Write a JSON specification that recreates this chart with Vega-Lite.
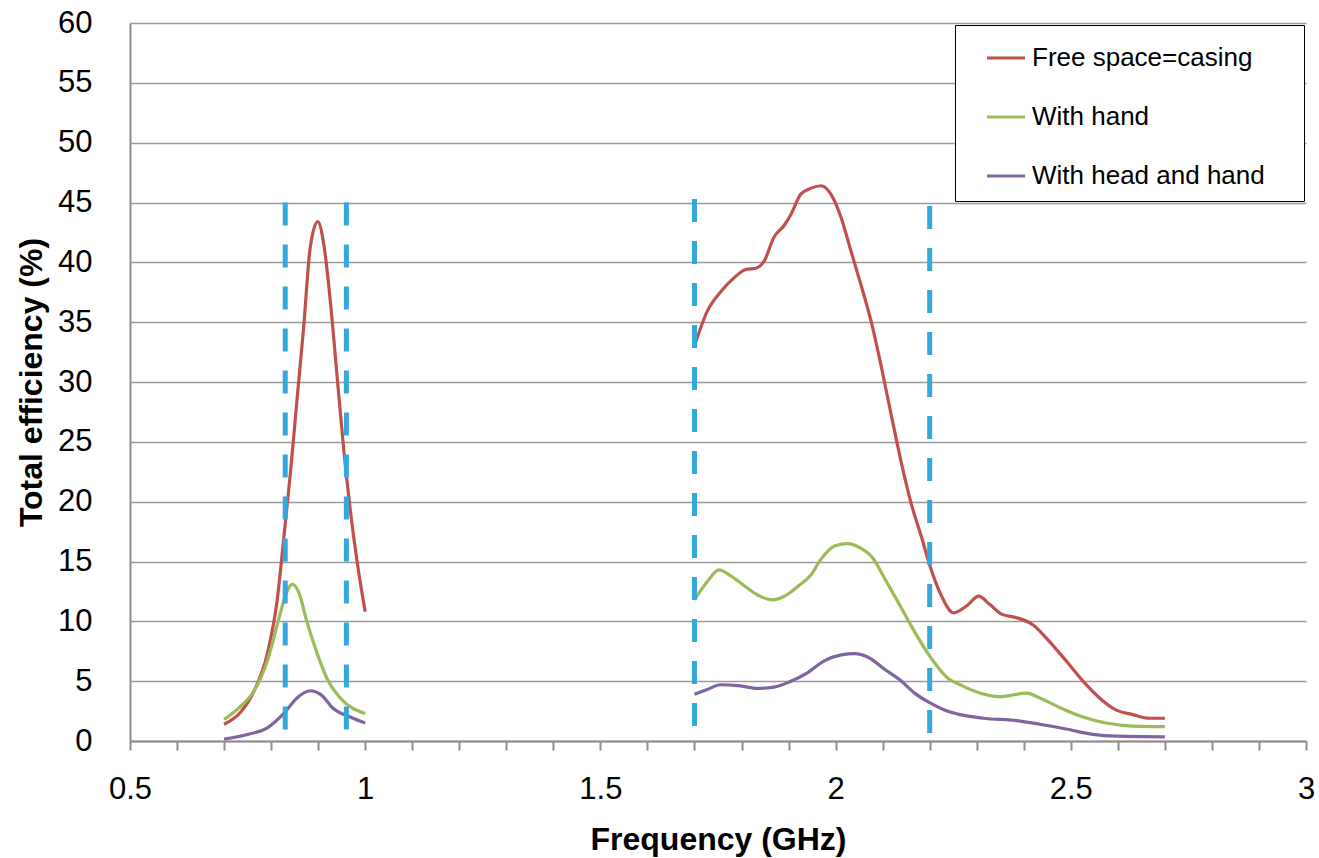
{
  "$schema": "https://vega.github.io/schema/vega-lite/v6.json",
  "width": 1176,
  "height": 718,
  "autosize": "none",
  "padding": {"left": 130, "top": 23, "right": 13, "bottom": 117},
  "background": "white",
  "config": {"view": {"stroke": null}, "font": "Liberation Sans"},
  "datasets": {
    "curves": [
      {"f": 0.7, "v": 1.4, "s": "Free space=casing", "b": "low"},
      {"f": 0.735, "v": 2.4, "s": "Free space=casing", "b": "low"},
      {"f": 0.764, "v": 4.2, "s": "Free space=casing", "b": "low"},
      {"f": 0.792, "v": 7.3, "s": "Free space=casing", "b": "low"},
      {"f": 0.813, "v": 11.8, "s": "Free space=casing", "b": "low"},
      {"f": 0.827, "v": 17, "s": "Free space=casing", "b": "low"},
      {"f": 0.841, "v": 22.4, "s": "Free space=casing", "b": "low"},
      {"f": 0.855, "v": 28.5, "s": "Free space=casing", "b": "low"},
      {"f": 0.869, "v": 34.5, "s": "Free space=casing", "b": "low"},
      {"f": 0.883, "v": 41.2, "s": "Free space=casing", "b": "low"},
      {"f": 0.899, "v": 43.4, "s": "Free space=casing", "b": "low"},
      {"f": 0.912, "v": 41.5, "s": "Free space=casing", "b": "low"},
      {"f": 0.926, "v": 36.7, "s": "Free space=casing", "b": "low"},
      {"f": 0.94, "v": 30.6, "s": "Free space=casing", "b": "low"},
      {"f": 0.954, "v": 24.5, "s": "Free space=casing", "b": "low"},
      {"f": 0.968, "v": 19.4, "s": "Free space=casing", "b": "low"},
      {"f": 0.982, "v": 15.2, "s": "Free space=casing", "b": "low"},
      {"f": 1.0, "v": 10.8, "s": "Free space=casing", "b": "low"},
      {"f": 1.7, "v": 33, "s": "Free space=casing", "b": "high"},
      {"f": 1.727, "v": 35.9, "s": "Free space=casing", "b": "high"},
      {"f": 1.755, "v": 37.5, "s": "Free space=casing", "b": "high"},
      {"f": 1.784, "v": 38.7, "s": "Free space=casing", "b": "high"},
      {"f": 1.809, "v": 39.4, "s": "Free space=casing", "b": "high"},
      {"f": 1.83, "v": 39.5, "s": "Free space=casing", "b": "high"},
      {"f": 1.848, "v": 40.1, "s": "Free space=casing", "b": "high"},
      {"f": 1.869, "v": 42.1, "s": "Free space=casing", "b": "high"},
      {"f": 1.891, "v": 43.1, "s": "Free space=casing", "b": "high"},
      {"f": 1.905, "v": 44.0, "s": "Free space=casing", "b": "high"},
      {"f": 1.926, "v": 45.7, "s": "Free space=casing", "b": "high"},
      {"f": 1.948, "v": 46.2, "s": "Free space=casing", "b": "high"},
      {"f": 1.969, "v": 46.4, "s": "Free space=casing", "b": "high"},
      {"f": 1.99, "v": 45.7, "s": "Free space=casing", "b": "high"},
      {"f": 2.012, "v": 43.7, "s": "Free space=casing", "b": "high"},
      {"f": 2.033, "v": 40.9, "s": "Free space=casing", "b": "high"},
      {"f": 2.054, "v": 38.1, "s": "Free space=casing", "b": "high"},
      {"f": 2.076, "v": 35.0, "s": "Free space=casing", "b": "high"},
      {"f": 2.097, "v": 31.3, "s": "Free space=casing", "b": "high"},
      {"f": 2.118, "v": 27.3, "s": "Free space=casing", "b": "high"},
      {"f": 2.14, "v": 23.2, "s": "Free space=casing", "b": "high"},
      {"f": 2.161, "v": 19.8, "s": "Free space=casing", "b": "high"},
      {"f": 2.183, "v": 17.0, "s": "Free space=casing", "b": "high"},
      {"f": 2.2, "v": 14.7, "s": "Free space=casing", "b": "high"},
      {"f": 2.223, "v": 12.3, "s": "Free space=casing", "b": "high"},
      {"f": 2.251, "v": 10.7, "s": "Free space=casing", "b": "high"},
      {"f": 2.279, "v": 11.3, "s": "Free space=casing", "b": "high"},
      {"f": 2.304, "v": 12.1, "s": "Free space=casing", "b": "high"},
      {"f": 2.328, "v": 11.4, "s": "Free space=casing", "b": "high"},
      {"f": 2.353, "v": 10.6, "s": "Free space=casing", "b": "high"},
      {"f": 2.385, "v": 10.3, "s": "Free space=casing", "b": "high"},
      {"f": 2.42, "v": 9.7, "s": "Free space=casing", "b": "high"},
      {"f": 2.448, "v": 8.6, "s": "Free space=casing", "b": "high"},
      {"f": 2.49, "v": 6.7, "s": "Free space=casing", "b": "high"},
      {"f": 2.526, "v": 5.0, "s": "Free space=casing", "b": "high"},
      {"f": 2.561, "v": 3.6, "s": "Free space=casing", "b": "high"},
      {"f": 2.596, "v": 2.6, "s": "Free space=casing", "b": "high"},
      {"f": 2.632, "v": 2.2, "s": "Free space=casing", "b": "high"},
      {"f": 2.667, "v": 1.9, "s": "Free space=casing", "b": "high"},
      {"f": 2.7, "v": 1.9, "s": "Free space=casing", "b": "high"},

      {"f": 0.7, "v": 1.8, "s": "With hand", "b": "low"},
      {"f": 0.735, "v": 2.9, "s": "With hand", "b": "low"},
      {"f": 0.764, "v": 4.2, "s": "With hand", "b": "low"},
      {"f": 0.792, "v": 6.7, "s": "With hand", "b": "low"},
      {"f": 0.813, "v": 9.7, "s": "With hand", "b": "low"},
      {"f": 0.83, "v": 12.1, "s": "With hand", "b": "low"},
      {"f": 0.845, "v": 13.1, "s": "With hand", "b": "low"},
      {"f": 0.859, "v": 12.4, "s": "With hand", "b": "low"},
      {"f": 0.876, "v": 10, "s": "With hand", "b": "low"},
      {"f": 0.898, "v": 7.3, "s": "With hand", "b": "low"},
      {"f": 0.919, "v": 5.2, "s": "With hand", "b": "low"},
      {"f": 0.947, "v": 3.6, "s": "With hand", "b": "low"},
      {"f": 1.0, "v": 2.3, "s": "With hand", "b": "low"},
      {"f": 1.7, "v": 11.8, "s": "With hand", "b": "high"},
      {"f": 1.727, "v": 13.3, "s": "With hand", "b": "high"},
      {"f": 1.752, "v": 14.3, "s": "With hand", "b": "high"},
      {"f": 1.777, "v": 13.8, "s": "With hand", "b": "high"},
      {"f": 1.805, "v": 13.0, "s": "With hand", "b": "high"},
      {"f": 1.834, "v": 12.2, "s": "With hand", "b": "high"},
      {"f": 1.866, "v": 11.8, "s": "With hand", "b": "high"},
      {"f": 1.891, "v": 12.1, "s": "With hand", "b": "high"},
      {"f": 1.919, "v": 12.9, "s": "With hand", "b": "high"},
      {"f": 1.948, "v": 13.9, "s": "With hand", "b": "high"},
      {"f": 1.969, "v": 15.2, "s": "With hand", "b": "high"},
      {"f": 1.998, "v": 16.3, "s": "With hand", "b": "high"},
      {"f": 2.026, "v": 16.5, "s": "With hand", "b": "high"},
      {"f": 2.054, "v": 16.1, "s": "With hand", "b": "high"},
      {"f": 2.079, "v": 15.3, "s": "With hand", "b": "high"},
      {"f": 2.104, "v": 13.6, "s": "With hand", "b": "high"},
      {"f": 2.133, "v": 11.6, "s": "With hand", "b": "high"},
      {"f": 2.161, "v": 9.6, "s": "With hand", "b": "high"},
      {"f": 2.19, "v": 7.7, "s": "With hand", "b": "high"},
      {"f": 2.211, "v": 6.5, "s": "With hand", "b": "high"},
      {"f": 2.24, "v": 5.2, "s": "With hand", "b": "high"},
      {"f": 2.265, "v": 4.7, "s": "With hand", "b": "high"},
      {"f": 2.293, "v": 4.2, "s": "With hand", "b": "high"},
      {"f": 2.35, "v": 3.7, "s": "With hand", "b": "high"},
      {"f": 2.406, "v": 4.0, "s": "With hand", "b": "high"},
      {"f": 2.434, "v": 3.6, "s": "With hand", "b": "high"},
      {"f": 2.476, "v": 2.8, "s": "With hand", "b": "high"},
      {"f": 2.526, "v": 2.0, "s": "With hand", "b": "high"},
      {"f": 2.575, "v": 1.5, "s": "With hand", "b": "high"},
      {"f": 2.632, "v": 1.25, "s": "With hand", "b": "high"},
      {"f": 2.7, "v": 1.2, "s": "With hand", "b": "high"},

      {"f": 0.7, "v": 0.15, "s": "With head and hand", "b": "low"},
      {"f": 0.756, "v": 0.6, "s": "With head and hand", "b": "low"},
      {"f": 0.792, "v": 1.1, "s": "With head and hand", "b": "low"},
      {"f": 0.827, "v": 2.3, "s": "With head and hand", "b": "low"},
      {"f": 0.855, "v": 3.6, "s": "With head and hand", "b": "low"},
      {"f": 0.883, "v": 4.2, "s": "With head and hand", "b": "low"},
      {"f": 0.905, "v": 3.9, "s": "With head and hand", "b": "low"},
      {"f": 0.933, "v": 2.7, "s": "With head and hand", "b": "low"},
      {"f": 0.968, "v": 2.0, "s": "With head and hand", "b": "low"},
      {"f": 1.0, "v": 1.5, "s": "With head and hand", "b": "low"},
      {"f": 1.7, "v": 3.9, "s": "With head and hand", "b": "high"},
      {"f": 1.727, "v": 4.3, "s": "With head and hand", "b": "high"},
      {"f": 1.755, "v": 4.7, "s": "With head and hand", "b": "high"},
      {"f": 1.798, "v": 4.6, "s": "With head and hand", "b": "high"},
      {"f": 1.834, "v": 4.4, "s": "With head and hand", "b": "high"},
      {"f": 1.869, "v": 4.5, "s": "With head and hand", "b": "high"},
      {"f": 1.905, "v": 5.0, "s": "With head and hand", "b": "high"},
      {"f": 1.94, "v": 5.7, "s": "With head and hand", "b": "high"},
      {"f": 1.976, "v": 6.7, "s": "With head and hand", "b": "high"},
      {"f": 2.012, "v": 7.2, "s": "With head and hand", "b": "high"},
      {"f": 2.04, "v": 7.3, "s": "With head and hand", "b": "high"},
      {"f": 2.069, "v": 7.0, "s": "With head and hand", "b": "high"},
      {"f": 2.104, "v": 6.0, "s": "With head and hand", "b": "high"},
      {"f": 2.14, "v": 5.0, "s": "With head and hand", "b": "high"},
      {"f": 2.168, "v": 4.0, "s": "With head and hand", "b": "high"},
      {"f": 2.2, "v": 3.2, "s": "With head and hand", "b": "high"},
      {"f": 2.237, "v": 2.5, "s": "With head and hand", "b": "high"},
      {"f": 2.265, "v": 2.2, "s": "With head and hand", "b": "high"},
      {"f": 2.314, "v": 1.9, "s": "With head and hand", "b": "high"},
      {"f": 2.385, "v": 1.7, "s": "With head and hand", "b": "high"},
      {"f": 2.434, "v": 1.4, "s": "With head and hand", "b": "high"},
      {"f": 2.49, "v": 1.0, "s": "With head and hand", "b": "high"},
      {"f": 2.547, "v": 0.55, "s": "With head and hand", "b": "high"},
      {"f": 2.596, "v": 0.4, "s": "With head and hand", "b": "high"},
      {"f": 2.7, "v": 0.35, "s": "With head and hand", "b": "high"}
    ],
    "markers": [
      {"f": 0.83, "top": 45, "bottom": 0},
      {"f": 0.96, "top": 45, "bottom": 0},
      {"f": 1.7, "top": 45.3, "bottom": 0},
      {"f": 2.2, "top": 44.7, "bottom": 0}
    ]
  },
  "layer": [
    {
      "data": {"name": "curves"},
      "mark": {"type": "line", "strokeWidth": 3.2, "interpolate": "monotone"},
      "encoding": {
        "x": {
          "field": "f", "type": "quantitative",
          "scale": {"domain": [0.5, 3], "nice": false, "zero": false},
          "axis": {
            "title": "Frequency (GHz)",
            "values": [0.5, 0.6, 0.7, 0.8, 0.9, 1.0, 1.1, 1.2, 1.3, 1.4, 1.5, 1.6, 1.7, 1.8, 1.9, 2.0, 2.1, 2.2, 2.3, 2.4, 2.5, 2.6, 2.7, 2.8, 2.9, 3.0],
            "format": ".1~f",
            "labelExpr": "indexof(['0.5','1','1.5','2','2.5','3'], datum.label) >= 0 ? datum.label : ''",
            "labelFlush": false,
            "labelOverlap": false,
            "grid": false,
            "domainColor": "#8c8c8c", "domainWidth": 2,
            "tickColor": "#8c8c8c", "tickWidth": 2, "tickSize": 9,
            "labelFontSize": 31, "labelColor": "#000000", "labelPadding": 24,
            "labelFont": "Liberation Sans",
            "titleFontSize": 32, "titleFontWeight": "bold", "titleColor": "#000000",
            "titleFont": "Liberation Sans", "titlePadding": 20
          }
        },
        "y": {
          "field": "v", "type": "quantitative",
          "scale": {"domain": [0, 60], "nice": false},
          "axis": {
            "title": "Total efficiency (%)",
            "values": [0, 5, 10, 15, 20, 25, 30, 35, 40, 45, 50, 55, 60],
            "grid": true, "gridColor": "#9a9a9a", "gridWidth": 1.6,
            "domainColor": "#8c8c8c", "domainWidth": 2,
            "ticks": false,
            "labelFlush": false,
            "labelFontSize": 31, "labelColor": "#000000", "labelPadding": 38,
            "labelFont": "Liberation Sans",
            "titleFontSize": 32, "titleFontWeight": "bold", "titleColor": "#000000",
            "titleFont": "Liberation Sans", "titlePadding": 9
          }
        },
        "color": {
          "field": "s", "type": "nominal",
          "scale": {
            "domain": ["Free space=casing", "With hand", "With head and hand"],
            "range": ["#C0504D", "#9BBB59", "#8064A2"]
          },
          "legend": {
            "title": " ",
            "titleOrient": "right",
            "titlePadding": 27,
            "orient": "none",
            "legendX": 825,
            "legendY": 2,
            "symbolType": "stroke",
            "symbolSize": 1444,
            "symbolStrokeWidth": 3.2,
            "symbolOffset": 18,
            "labelFontSize": 26,
            "labelFont": "Liberation Sans",
            "labelColor": "#000000",
            "labelOffset": 5,
            "rowPadding": 25,
            "padding": 12,
            "strokeColor": "#000000",
            "fillColor": "#ffffff",
            "labelLimit": 400
          }
        },
        "detail": {"field": "b", "type": "nominal"}
      }
    },
    {
      "data": {"name": "markers"},
      "mark": {"type": "rule", "color": "#33A8DC", "strokeWidth": 5, "strokeDash": [23, 19]},
      "encoding": {
        "x": {"field": "f", "type": "quantitative"},
        "y": {"field": "top", "type": "quantitative"},
        "y2": {"field": "bottom"}
      }
    }
  ]
}
